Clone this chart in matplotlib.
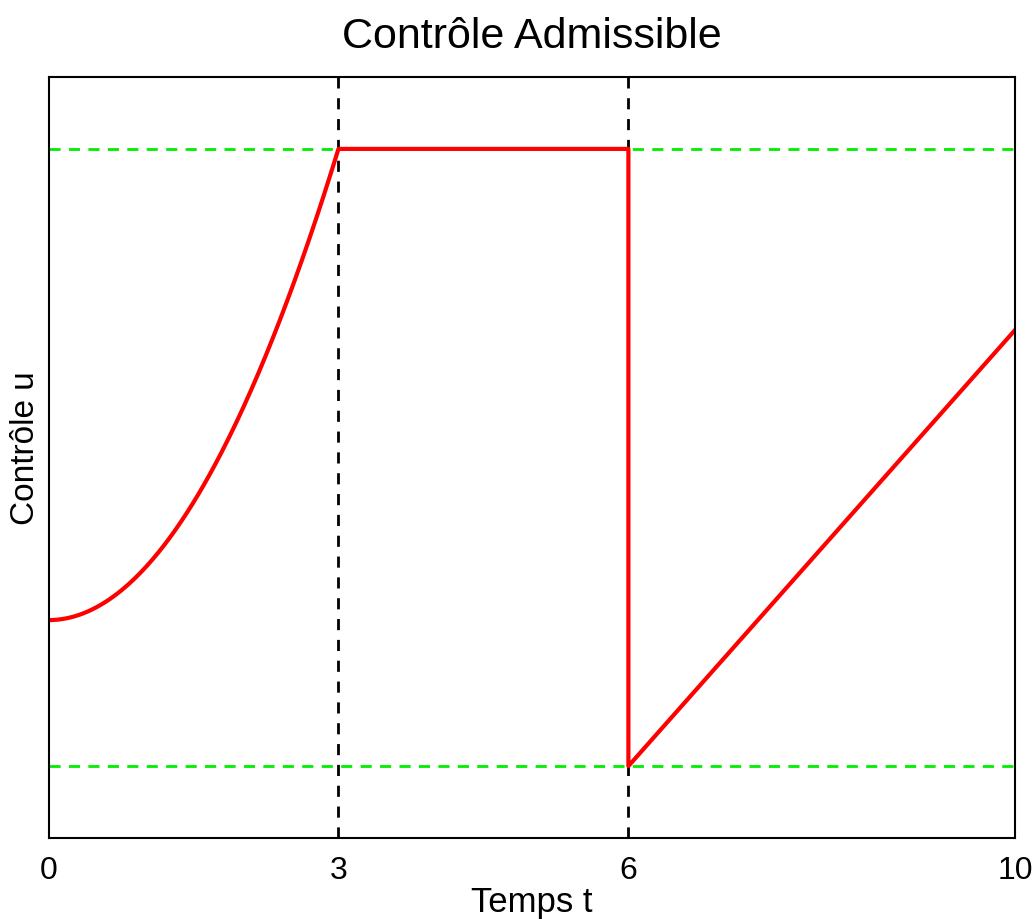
import numpy as np
import matplotlib
matplotlib.use("Agg")
import matplotlib.pyplot as plt

plt.rcParams['font.family'] = ['Liberation Sans', 'DejaVu Sans']

# data
u_min, u_max = -1.0, 1.0
u_start = -0.527          # u(0)
u_end = 0.413             # u(10)
t_switch = [3, 6]         # switching times
x_ticks = [0, 3, 6, 10]

# parabolic arc on [0, 3]
t1 = np.linspace(0, 3, 200)
a = (u_max - u_start) / 9.0
u1 = u_start + a * t1 ** 2
# saturated arc on [3, 6], then jump and linear arc on [6, 10]
t2 = np.array([3, 6, 6, 10])
u2 = np.array([u_max, u_max, u_min, u_end])

t = np.concatenate([t1, t2])
u = np.concatenate([u1, u2])

fig = plt.figure(figsize=(10.36, 9.2), dpi=100)
ax = fig.add_axes([48.5 / 1036, 1 - 839 / 920, (1015 - 48.5) / 1036, (839 - 78) / 920])

ax.axhline(u_max, color='#00ee00', ls=(0, (4, 3)), lw=2)
ax.axhline(u_min, color='#00ee00', ls=(0, (4, 3)), lw=2)
for ts in t_switch:
    ax.axvline(ts, color='black', ls=(0, (4, 3.5)), lw=2)
ax.plot(t, u, color='red', lw=3)

ax.set_xlim(0, 10)
ax.set_ylim(-1.233, 1.233)
ax.set_xticks(x_ticks)
ax.set_yticks([])
ax.tick_params(axis='x', length=0, labelsize=23, pad=12)
for s in ax.spines.values():
    s.set_linewidth(1.5)

ax.set_title('Contrôle Admissible', fontsize=31, pad=21.5)
ax.set_xlabel('Temps t', fontsize=25, labelpad=0.5)
ax.set_ylabel('Contrôle u', fontsize=24)
ax.yaxis.set_label_coords(-0.008, 0.514)

fig.savefig('out.png', dpi=100)
